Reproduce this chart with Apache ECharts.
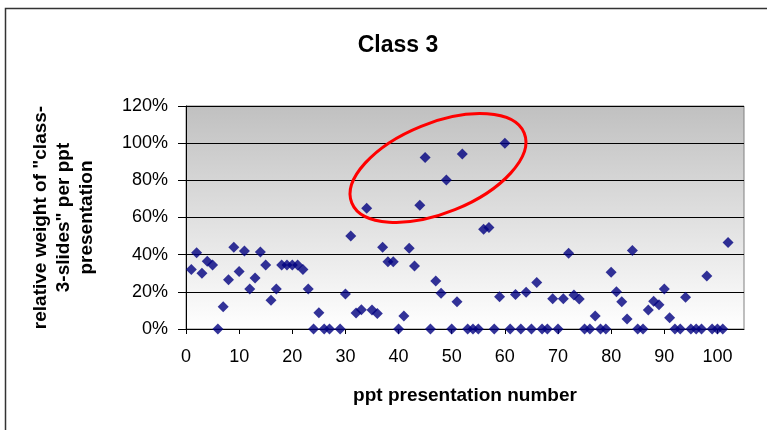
<!DOCTYPE html>
<html>
<head>
<meta charset="utf-8">
<script src="https://cdn.jsdelivr.net/npm/echarts@6/dist/echarts.min.js"></script>
<style>
    html, body { margin: 0; padding: 0; background: #fff; }
    #chart { width: 767px; height: 430px; }
</style>
</head>
<body>
<div id="chart"></div>
<script>
// presentation numbers (no. 28 is missing in the source)
const xs = [
    1, 2, 3, 4, 5, 6, 7, 8, 9, 10, 11, 12, 13, 14, 15, 16, 17, 18, 19, 20,
    21, 22, 23, 24, 25, 26, 27, 29, 30, 31, 32, 33, 34, 35, 36, 37, 38, 39, 40,
    41, 42, 43, 44, 45, 46, 47, 48, 49, 50, 51, 52, 53, 54, 55, 56, 57, 58, 59, 60,
    61, 62, 63, 64, 65, 66, 67, 68, 69, 70, 71, 72, 73, 74, 75, 76, 77, 78, 79, 80,
    81, 82, 83, 84, 85, 86, 87, 88, 89, 90, 91, 92, 93, 94, 95, 96, 97, 98, 99, 100,
    101, 102
]
// relative weight in percent
const weights = [
    32, 41, 30, 36.5, 34.5, 0, 12, 26.5, 44, 31, 42, 21.5, 27.5, 41.5, 34.5, 15.5, 21.5, 34.5, 34.5, 34.5,
    34.5, 32, 21.5, 0, 8.7, 0, 0, 0, 18.8, 50, 8.6, 10.4, 65, 10.2, 8.4, 44, 36.2, 36.2, 0,
    7, 43.4, 33.9, 66.6, 92.3, 0, 25.8, 19.2, 80.2, 0, 14.7, 94.2, 0, 0, 0, 53.7, 54.6, 0, 17.4, 100,
    0, 18.5, 0, 19.8, 0, 25, 0, 0, 16.3, 0, 16.3, 40.7, 18.3, 16.2, 0, 0, 7, 0, 0, 30.5,
    20, 14.7, 5.4, 42.2, 0, 0, 10.2, 15, 13, 21.5, 6, 0, 0, 17.1, 0, 0, 0, 28.5, 0, 0,
    0, 46.5
]
const yTicks = [0, 20, 40, 60, 80, 100, 120]

const font = 'Liberation Sans, Arial, sans-serif'
const chart = echarts.init(document.getElementById('chart'))

const points = xs.map((x, i) => [x, weights[i]])

const option = {
    backgroundColor: '#ffffff',
    animation: false,
    title: {
        text: 'Class 3',
        left: 393,
        top: 29,
        textAlign: 'center',
        textStyle: { fontFamily: font, fontSize: 23, fontWeight: 'bold', color: '#000' }
    },
    grid: {
        left: 186,
        right: 23,
        top: 106,
        bottom: 101,
        show: true,
        borderColor: '#808080',
        borderWidth: 1,
        backgroundColor: new echarts.graphic.LinearGradient(0, 0, 0, 1, [
            { offset: 0, color: '#c0c0c0' },
            { offset: 1, color: '#ffffff' }
        ])
    },
    xAxis: {
        type: 'value',
        min: 0,
        max: 105,
        interval: 10,
        name: 'ppt presentation number',
        nameLocation: 'middle',
        nameGap: 57,
        nameTextStyle: { fontFamily: font, fontSize: 19, fontWeight: 'bold', color: '#000' },
        axisLine: { show: true, lineStyle: { color: '#000', width: 1 } },
        axisTick: { show: true, length: 5, lineStyle: { color: '#000' } },
        axisLabel: {
            showMaxLabel: false,
            margin: 19,
            fontFamily: font,
            fontSize: 18,
            color: '#000'
        },
        splitLine: { show: false }
    },
    yAxis: {
        type: 'value',
        min: yTicks[0],
        max: yTicks[yTicks.length - 1],
        interval: 20,
        name: 'relative weight of "class-\n3-slides" per ppt\npresentation',
        nameLocation: 'middle',
        nameRotate: 90,
        nameGap: 88,
        nameTextStyle: {
            fontFamily: font,
            fontSize: 19,
            fontWeight: 'bold',
            color: '#000',
            lineHeight: 23,
            align: 'center'
        },
        axisLine: { show: true, lineStyle: { color: '#000', width: 1 } },
        axisTick: { show: true, length: 8, lineStyle: { color: '#000' } },
        axisLabel: {
            margin: 18,
            formatter: '{value}%',
            fontFamily: font,
            fontSize: 18,
            color: '#000'
        },
        splitLine: { show: true, lineStyle: { color: '#000', width: 1 } }
    },
    series: [
        {
            type: 'scatter',
            data: points,
            symbol: 'diamond',
            symbolSize: 11,
            itemStyle: { color: '#000080' },
            z: 3
        }
    ],
    graphic: [
        // outer chart frame
        {
            type: 'rect',
            silent: true,
            shape: { x: 5.5, y: 8.5, width: 800, height: 500 },
            style: { fill: 'none', stroke: '#333', lineWidth: 1.5 }
        },
        // red highlight around the high values
        {
            type: 'ellipse',
            silent: true,
            z: 100,
            x: 438,
            y: 168,
            rotation: 22 * Math.PI / 180,
            shape: { cx: 0, cy: 0, rx: 93, ry: 45 },
            style: { fill: 'none', stroke: '#ff0000', lineWidth: 3 }
        }
    ]
}

chart.setOption(option)
</script>
</body>
</html>
